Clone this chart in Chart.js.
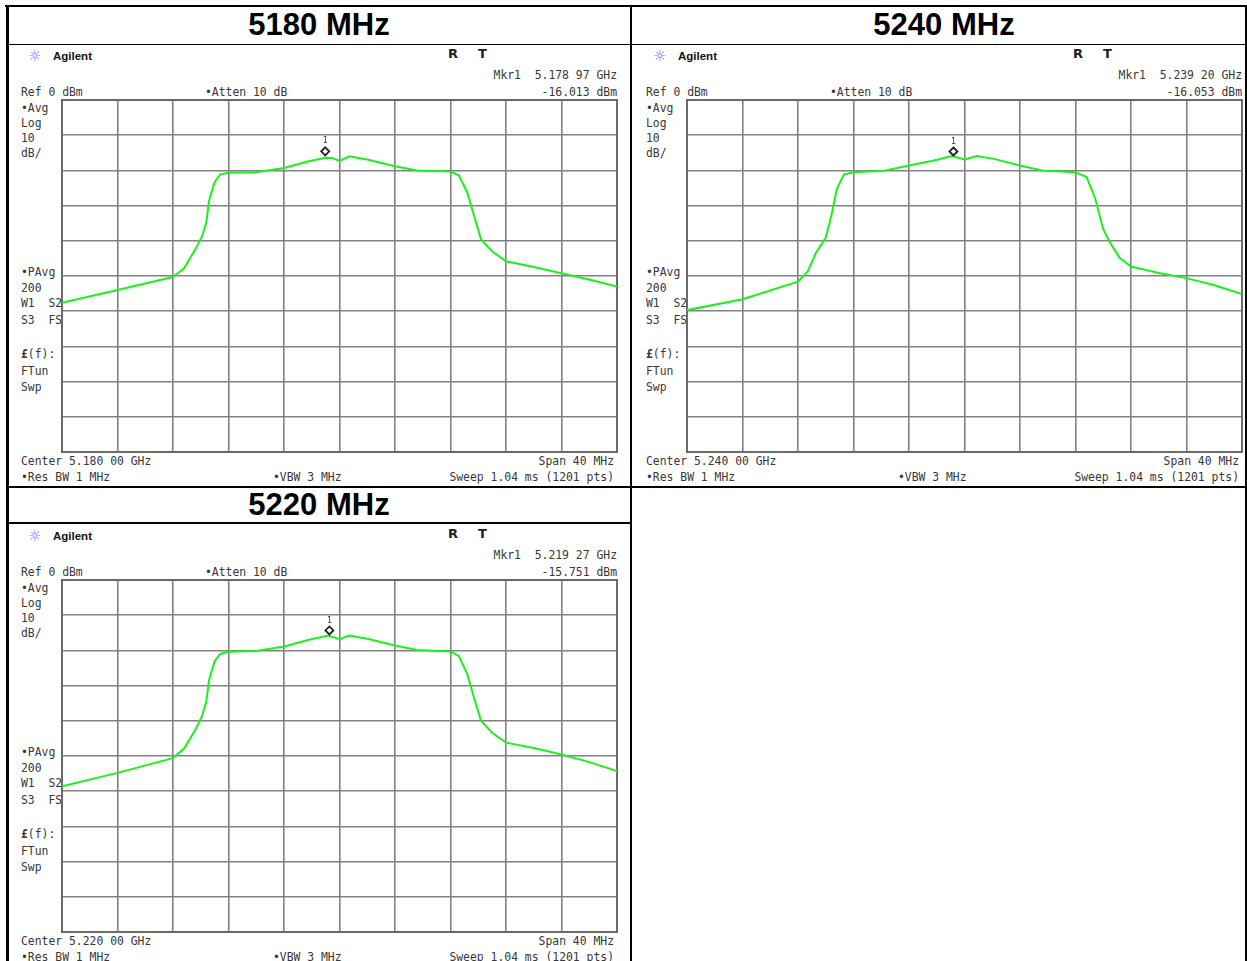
<!DOCTYPE html>
<html>
<head>
<meta charset="utf-8">
<script src="https://cdn.jsdelivr.net/npm/chart.js@4/dist/chart.umd.min.js"></script>
<style>
  html, body { margin: 0; padding: 0; background: #fff; }
  body { width: 1247px; height: 961px; position: relative; overflow: hidden; }
  .rule { position: absolute; background: #000; }
  .title { position: absolute; width: 600px; margin-left: -300px; text-align: center;
           font: bold 31px "Liberation Sans", Arial, sans-serif; line-height: 36px; color: #000; }
  .t { position: absolute; font: 11.4px "DejaVu Sans Mono", monospace; color: #383838;
       line-height: 14px; white-space: pre; }
  .r { text-align: right; }
  .rt { position: absolute; font: bold 13px "DejaVu Sans", sans-serif; color: #222; line-height: 14px; }
  .logo { position: absolute; font: 15px "DejaVu Sans", sans-serif; color: #6a6aff; line-height: 16px; }
  .brand { position: absolute; font: bold 11.5px "Liberation Sans", Arial, sans-serif; color: #111; line-height: 14px; }
  .plot { position: absolute; }
</style>
</head>
<body>
<script>
// traces: offset from centre (MHz), level (dBm)
const offsets5180 = [-20, -16, -12, -11.2, -10.4, -9.9, -9.6, -9.4, -9.0, -8.6, -8, -6.0, -4, -2.2, -1.0, -0.5, 0,
  0.7, 2.0, 4, 5.6, 8, 8.6, 9.2, 9.7, 10.2, 11.0, 12, 14.1, 16, 17.9, 20];
const levels5180 = [-57.6, -54.0, -50.3, -47.8, -42.5, -38.7, -34.8, -28.6, -23.3, -21.2, -20.7, -20.5, -19.3, -17.4,
  -16.4, -16.5, -17.3, -16.0, -16.9, -18.8, -20.0, -20.3, -21.4, -26.2, -32.9, -39.6, -43.0, -45.8, -47.5, -49.2, -50.9, -53.0];

const offsets5240 = [-20, -16, -12, -11.3, -10.7, -10.0, -9.6, -9.2, -8.7, -8, -5.8, -4, -2.2, -0.9, 0, 0.9, 2.2, 4,
  5.6, 8, 8.8, 9.4, 10.0, 10.5, 11.2, 12, 14.1, 16, 17.9, 20];
const levels5240 = [-59.7, -56.6, -51.6, -48.7, -43.4, -39.1, -32.9, -25.3, -21.2, -20.5, -20.1, -18.6, -17.2, -15.9,
  -16.9, -15.9, -16.8, -18.6, -20.0, -20.5, -21.9, -27.7, -36.7, -40.6, -44.9, -47.3, -49.2, -50.6, -52.5, -55.1];

const offsets5220 = [-20, -16, -12, -11.2, -10.4, -9.9, -9.6, -9.4, -9.0, -8.6, -8, -6.0, -4, -2.2, -0.8, 0,
  0.7, 2.0, 4, 5.6, 8, 8.6, 9.2, 9.7, 10.2, 11.0, 12, 14.1, 16, 17.9, 20];
const levels5220 = [-58.6, -54.8, -50.6, -47.9, -42.6, -38.6, -34.6, -28.4, -23.1, -21.0, -20.4, -20.2, -18.9, -17.0,
  -15.8, -16.8, -15.8, -16.7, -18.6, -19.9, -20.3, -21.6, -26.6, -33.5, -40.0, -43.4, -46.2, -47.8, -49.6, -51.6, -54.3];

const centres = [5180, 5240, 5220];
const titles = ['5180 MHz', '5240 MHz', '5220 MHz'];
const markerFreqs = [5178.97, 5239.20, 5219.27];
const markerLevels = [-16.013, -16.053, -15.751];
const spanMHz = 40;
const refLevel = 0;
const dbPerDiv = 10;

const traces = [[offsets5180, levels5180], [offsets5240, levels5240], [offsets5220, levels5220]];

// page layout
const plotOrigins = [[62, 100], [687, 100], [62, 580]];
const titleCentres = [[319, 25], [944, 25], [319, 505]];
const plotW = 555, plotH = 352;

function add(cls, x, y, text, opts = {}) {
  const d = document.createElement('div');
  d.className = cls;
  d.style.left = x + 'px';
  d.style.top = y + 'px';
  if (opts.html) d.innerHTML = text; else d.textContent = text;
  if (opts.right) { d.style.left = ''; d.style.right = (1247 - x) + 'px'; d.classList.add('r'); }
  document.body.appendChild(d);
  return d;
}

function rule(x, y, w, h) {
  const d = document.createElement('div');
  d.className = 'rule';
  Object.assign(d.style, { left: x + 'px', top: y + 'px', width: w + 'px', height: h + 'px' });
  document.body.appendChild(d);
}

// table rules
rule(5, 5, 1242, 2);
rule(6, 5, 2.5, 956);
rule(629.5, 5, 2.5, 956);
rule(1244.5, 5, 2.5, 956);
rule(7, 43.5, 1239, 1.5);
rule(7, 485.5, 1239, 2);
rule(7, 521.5, 624, 2);

const fmtGHz = (mhz) => {
  const s = (mhz / 1000).toFixed(5);
  return s.slice(0, 5) + ' ' + s.slice(5);
};

const markerPlugin = {
  id: 'marker',
  beforeDatasetsDraw(chart) {
    const { ctx, chartArea: a } = chart;
    ctx.save();
    ctx.strokeStyle = '#6a6a6a';
    ctx.lineWidth = 2;
    ctx.strokeRect(a.left, a.top, a.right - a.left, a.bottom - a.top);
    ctx.restore();
  },
  afterDatasetsDraw(chart, args, opts) {
    const { ctx } = chart;
    const x = chart.scales.x.getPixelForValue(opts.freq);
    const y = chart.scales.y.getPixelForValue(opts.level) - 5;
    ctx.save();
    ctx.strokeStyle = '#222';
    ctx.lineWidth = 1.8;
    ctx.beginPath();
    ctx.moveTo(x, y - 4); ctx.lineTo(x + 4, y); ctx.lineTo(x, y + 4); ctx.lineTo(x - 4, y); ctx.closePath();
    ctx.stroke();
    ctx.fillStyle = '#333';
    ctx.font = '8px "DejaVu Sans Mono", monospace';
    ctx.textAlign = 'center';
    ctx.textBaseline = 'middle';
    ctx.fillText('1', x, y - 10);
    ctx.restore();
  }
};

centres.forEach((c, i) => {
  const [px, py] = plotOrigins[i];
  add('title', titleCentres[i][0], titleCentres[i][1] - 18, titles[i]);

  // analyser annotations
  add('logo', px - 34, py - 52, '☼');
  add('brand', px - 9, py - 51, 'Agilent');
  add('rt', px + 386, py - 53, 'R');
  add('rt', px + 416, py - 53, 'T');
  add('t', px + 555, py - 32, 'Mkr1  ' + fmtGHz(markerFreqs[i]) + ' GHz', { right: true });
  add('t', px + 555, py - 15, markerLevels[i].toFixed(3) + ' dBm', { right: true });
  add('t', px - 41, py - 15, 'Ref ' + refLevel + ' dBm');
  add('t', px + 143, py - 15, '•Atten 10 dB');
  const side = [['•Avg', 8], ['Log', 23], [String(dbPerDiv), 38], ['dB/', 53], ['•PAvg', 172], ['200', 188],
    ['W1  S2', 203], ['S3  FS', 220], ['<b>£</b>(f):', 254], ['FTun', 271], ['Swp', 287]];
  side.forEach(([s, dy]) => add('t', px - 41, py + dy - 7, s, { html: true }));
  add('t', px - 41, py + 354, 'Center ' + fmtGHz(c) + ' GHz');
  add('t', px - 41, py + 370, '•Res BW 1 MHz');
  add('t', px + 211, py + 370, '•VBW 3 MHz');
  add('t', px + 552, py + 354, 'Span ' + spanMHz + ' MHz', { right: true });
  add('t', px + 552, py + 370, 'Sweep 1.04 ms (1201 pts)', { right: true });

  const holder = document.createElement('div');
  holder.className = 'plot';
  holder.style.left = (px - 1) + 'px';
  holder.style.top = (py - 1) + 'px';
  const canvas = document.createElement('canvas');
  canvas.width = plotW + 2;
  canvas.height = plotH + 2;
  holder.appendChild(canvas);
  document.body.appendChild(holder);

  const [offs, levs] = traces[i];
  const points = offs.map((o, k) => ({ x: c + o, y: levs[k] }));

  new Chart(canvas, {
    type: 'line',
    data: {
      datasets: [{
        data: points,
        borderColor: '#1ef01e',
        borderWidth: 2,
        pointRadius: 0,
        tension: 0,
      }],
    },
    options: {
      animation: false,
      responsive: false,
      events: [],
      layout: { padding: 1 },
      plugins: {
        legend: { display: false },
        tooltip: { enabled: false },
        marker: { freq: markerFreqs[i], level: markerLevels[i] },
      },
      scales: {
        x: {
          type: 'linear',
          min: c - spanMHz / 2,
          max: c + spanMHz / 2,
          ticks: { display: false, stepSize: spanMHz / 10 },
          grid: { color: '#828282', lineWidth: 1.6, drawTicks: false },
          border: { display: false },
        },
        y: {
          min: refLevel - 10 * dbPerDiv,
          max: refLevel,
          ticks: { display: false, stepSize: dbPerDiv },
          grid: { color: '#828282', lineWidth: 1.6, drawTicks: false },
          border: { display: false },
        },
      },
    },
    plugins: [markerPlugin],
  });
});
</script>
</body>
</html>
